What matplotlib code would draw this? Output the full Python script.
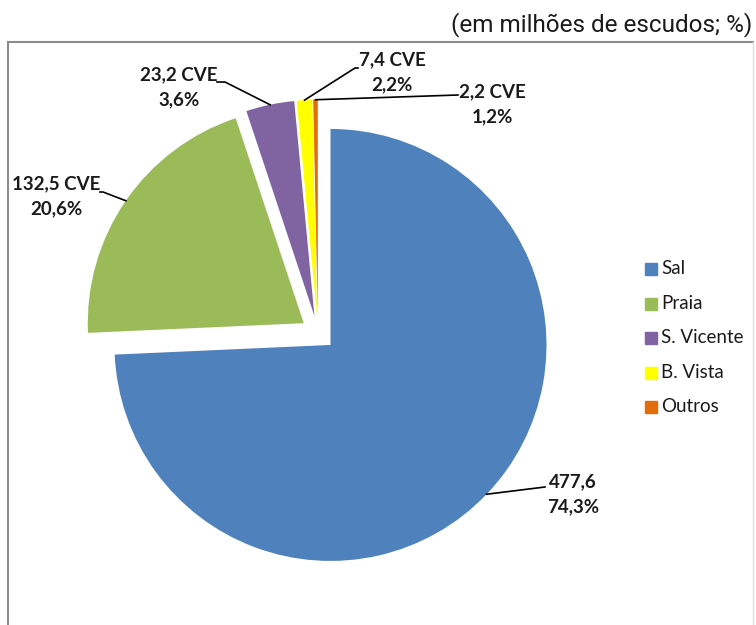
import matplotlib
matplotlib.use("Agg")
import numpy as np
import matplotlib.pyplot as plt
from matplotlib.patches import Rectangle
from matplotlib.lines import Line2D

# data
regions = ["Sal", "Praia", "S. Vicente", "B. Vista", "Outros"]
values = [477.6, 132.5, 23.2, 7.4, 2.2]
value_labels = ["477,6\n74,3%", "132,5 CVE\n20,6%", "23,2 CVE\n3,6%",
                "7,4 CVE\n2,2%", "2,2 CVE\n1,2%"]
colors = ["#4F81BD", "#9BBB59", "#8064A2", "#FFFF00", "#E46C0A"]
title = "(em milhões de escudos; %)"

FW, FH = 756, 625
fig = plt.figure(figsize=(FW / 100, FH / 100), dpi=100)

# pie centre / radius in pixels (measured on the reference)
cx, cy, rad = 318, 333, 216
ax = fig.add_axes([0, 0, 1, 1])


def px(x, y):
    """pixel position (origin top-left) -> data coords of the pie axes"""
    return (x - cx) / rad, (cy - y) / rad


wedges, _ = ax.pie(values, colors=colors, startangle=90, counterclock=False,
                   explode=[0.08] * len(values), radius=1,
                   wedgeprops=dict(linewidth=0))
ax.set_xlim(-cx / rad, (FW - cx) / rad)
ax.set_ylim((cy - FH) / rad, cy / rad)
ax.set_aspect("auto")
ax.axis("off")

# label layout: text centre (px), elbow (px), alignment
label_pos = [
    ((547, 494), (545, 487), "left"),
    ((56, 196), (103, 192), "center"),
    ((179, 87), (225, 82), "center"),
    ((392, 72), (355, 68), "center"),
    ((492, 104), (458, 95), "center"),
]
label_end = [(545, 487), (100, 192), (217, 82), (358, 68), (458, 95)]

for w, txt, (tp, elbow, ha), end in zip(wedges, value_labels, label_pos, label_end):
    th = np.deg2rad((w.theta1 + w.theta2) / 2)
    sx = w.center[0] + w.r * np.cos(th)
    sy = w.center[1] + w.r * np.sin(th)
    ex, ey = px(*elbow)
    tx, ty = px(*end)
    ax.add_line(Line2D([sx, ex, tx], [sy, ey, ty], color="black", lw=1.2))
    x, y = px(*tp)
    ax.text(x, y, txt, ha=ha, va="center", multialignment="center",
            fontsize=13.5, fontweight="bold", family="Lato",
            linespacing=1.6, color="#1a1a1a")

# legend drawn by hand to match the reference spacing
for i, (name, c) in enumerate(zip(regions, colors)):
    yy = 269 + i * 34.5
    fig.patches.append(Rectangle((645 / FW, 1 - (yy + 6) / FH), 12 / FW, 12 / FH,
                                 transform=fig.transFigure, color=c))
    fig.text(661 / FW, 1 - yy / FH, name, ha="left", va="center",
             fontsize=13.5, family="Lato", color="#1a1a1a")

# chart frame
fig.add_artist(Line2D([10 / FW, 753 / FW], [1 - 42 / FH, 1 - 42 / FH],
                      transform=fig.transFigure, color="#8c8c8c", lw=1.5))
fig.add_artist(Line2D([8 / FW, 8 / FW], [0, 1 - 42 / FH],
                      transform=fig.transFigure, color="#8c8c8c", lw=1.5))
fig.add_artist(Line2D([753 / FW, 753 / FW], [0, 1 - 42 / FH],
                      transform=fig.transFigure, color="#e0e0e0", lw=1))

fig.text(752 / FW, 1 - 25 / FH, title, ha="right", va="center",
         fontsize=17.5, family="Roboto", color="#1a1a1a")

fig.savefig("out.png", dpi=100)
